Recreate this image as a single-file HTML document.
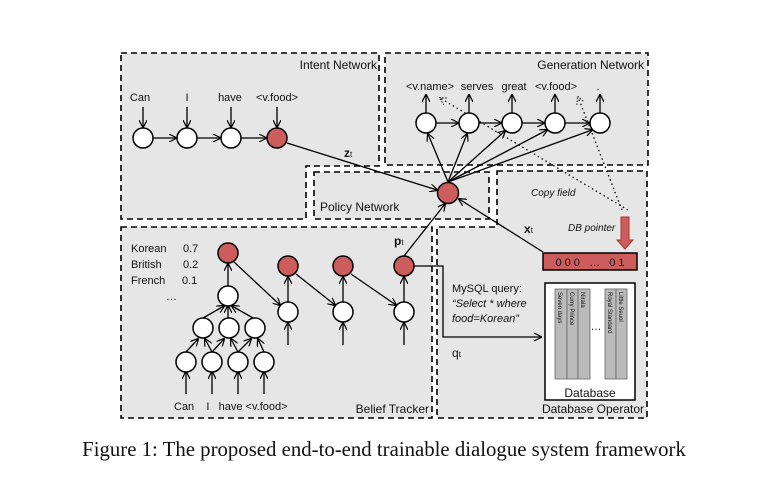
<!DOCTYPE html>
<html><head><meta charset="utf-8"><style>
html,body{margin:0;padding:0;background:#fff;width:770px;height:480px;overflow:hidden}
svg text{font-family:"Liberation Sans",sans-serif;font-size:11px;fill:#111}
</style></head><body>
<svg width="770" height="480" viewBox="0 0 770 480" xmlns="http://www.w3.org/2000/svg">
<defs>
<marker id="a" markerWidth="8" markerHeight="8" refX="7" refY="4" orient="auto" markerUnits="userSpaceOnUse"><path d="M0,0 L8,4 L0,8" fill="none" stroke="#000" stroke-width="1.2"/></marker>
<marker id="ad" markerWidth="8" markerHeight="8" refX="7" refY="4" orient="auto" markerUnits="userSpaceOnUse"><path d="M0,0 L8,4 L0,8" fill="none" stroke="#000" stroke-width="1" stroke-dasharray="1.5,1.5"/></marker>
</defs>
<g fill="#e6e6e6" stroke="#000" stroke-width="1.6" stroke-dasharray="6,4">
<path d="M121,53 H379 V166 H306 V219 H121 Z"/>
<rect x="385" y="53" width="263" height="112"/>
<rect x="314" y="172" width="175" height="47"/>
<path d="M497,171 H647 V418 H437 V227 H497 Z"/>
<rect x="121" y="227" width="311" height="191"/>
</g>
<text x="377" y="69" text-anchor="end" style="font-size:12px">Intent Network</text>
<text x="644" y="69" text-anchor="end" style="font-size:12px">Generation Network</text>
<text x="320" y="211" style="font-size:12px">Policy Network</text>
<text x="429" y="413" text-anchor="end" style="font-size:12px">Belief Tracker</text>
<text x="644" y="413" text-anchor="end" style="font-size:12px">Database Operator</text>
<g stroke="#000" stroke-width="1.3" fill="none" marker-end="url(#a)">
<line x1="143" y1="107" x2="143" y2="127"/><line x1="187" y1="107" x2="187" y2="127"/>
<line x1="231" y1="107" x2="231" y2="127"/><line x1="277" y1="107" x2="277" y2="127"/>
<line x1="153" y1="138" x2="176" y2="138"/><line x1="197" y1="138" x2="220" y2="138"/><line x1="241" y1="138" x2="266" y2="138"/>
<line x1="287" y1="143" x2="437" y2="190"/>
<line x1="436" y1="123" x2="458" y2="123"/><line x1="479" y1="123" x2="501" y2="123"/><line x1="522" y1="123" x2="544" y2="123"/><line x1="565" y1="123" x2="589" y2="123"/>
<line x1="426" y1="113" x2="426" y2="95"/><line x1="469" y1="113" x2="469" y2="95"/><line x1="512" y1="113" x2="512" y2="95"/><line x1="555" y1="113" x2="555" y2="95"/><line x1="600" y1="113" x2="600" y2="95"/>
<line x1="448" y1="182" x2="428" y2="134"/><line x1="448" y1="182" x2="467" y2="134"/><line x1="448" y1="182" x2="505" y2="131"/><line x1="448" y1="182" x2="547" y2="130"/><line x1="448" y1="182" x2="592" y2="130"/>
<line x1="543" y1="252" x2="459" y2="199"/>
<line x1="404" y1="256" x2="445" y2="204"/>
<polyline points="414,266 443,266 443,337 541,337"/>
<line x1="228" y1="286" x2="228" y2="264"/>
<line x1="203" y1="318" x2="224" y2="306"/><line x1="228" y1="318" x2="228" y2="306"/><line x1="253" y1="318" x2="232" y2="306"/>
<line x1="186" y1="352" x2="198" y2="339"/><line x1="212" y1="352" x2="205" y2="339"/><line x1="212" y1="352" x2="224" y2="339"/><line x1="238" y1="352" x2="231" y2="339"/><line x1="238" y1="352" x2="251" y2="339"/><line x1="264" y1="352" x2="258" y2="339"/>
<line x1="186" y1="394" x2="186" y2="372"/><line x1="212" y1="394" x2="212" y2="372"/><line x1="238" y1="394" x2="238" y2="372"/><line x1="264" y1="394" x2="264" y2="372"/>
<line x1="288" y1="302" x2="288" y2="277"/><line x1="343" y1="302" x2="343" y2="277"/><line x1="404" y1="302" x2="404" y2="277"/>
<line x1="288" y1="345" x2="288" y2="323"/><line x1="343" y1="345" x2="343" y2="323"/><line x1="404" y1="345" x2="404" y2="323"/>
<line x1="234" y1="262" x2="280" y2="305"/><line x1="296" y1="274" x2="335" y2="305"/><line x1="351" y1="274" x2="396" y2="305"/>
</g>
<g stroke="#000" stroke-width="1.3" stroke-dasharray="1.5,3" fill="none" marker-end="url(#ad)">
<line x1="628" y1="210" x2="440" y2="98"/>
<line x1="622" y1="210" x2="578" y2="97"/>
</g>
<g stroke="#000" stroke-width="1.5">
<circle cx="143" cy="138" r="10" fill="#fff"/><circle cx="187" cy="138" r="10" fill="#fff"/><circle cx="231" cy="138" r="10" fill="#fff"/><circle cx="277" cy="138" r="10" fill="#cd5c5c"/>
<circle cx="426" cy="123" r="10" fill="#fff"/><circle cx="469" cy="123" r="10" fill="#fff"/><circle cx="512" cy="123" r="10" fill="#fff"/><circle cx="555" cy="123" r="10" fill="#fff"/><circle cx="600" cy="123" r="10" fill="#fff"/>
<circle cx="448" cy="193" r="10.5" fill="#cd5c5c"/>
<circle cx="228" cy="253" r="10" fill="#cd5c5c"/><circle cx="288" cy="266" r="10" fill="#cd5c5c"/><circle cx="343" cy="266" r="10" fill="#cd5c5c"/><circle cx="404" cy="266" r="10" fill="#cd5c5c"/>
<circle cx="228" cy="296" r="10" fill="#fff"/>
<circle cx="203" cy="328" r="10" fill="#fff"/><circle cx="229" cy="328" r="10" fill="#fff"/><circle cx="255" cy="328" r="10" fill="#fff"/>
<circle cx="186" cy="362" r="10" fill="#fff"/><circle cx="212" cy="362" r="10" fill="#fff"/><circle cx="238" cy="362" r="10" fill="#fff"/><circle cx="264" cy="362" r="10" fill="#fff"/>
<circle cx="288" cy="312" r="10" fill="#fff"/><circle cx="343" cy="312" r="10" fill="#fff"/><circle cx="404" cy="312" r="10" fill="#fff"/>
<rect x="543" y="253" width="94" height="17" fill="#cd5c5c"/>
<rect x="545" y="283" width="90" height="117" fill="#fff"/>
</g>
<g fill="#bbb" stroke="#666" stroke-width="0.8">
<rect x="555" y="289" width="12" height="90"/><rect x="567" y="289" width="11" height="90"/><rect x="578" y="289" width="12" height="90"/>
<rect x="605" y="289" width="11" height="90"/><rect x="616" y="289" width="11" height="90"/>
</g>
<path d="M621,217 H629 V240 H633 L625,249 L617,240 H621 Z" fill="#cd5c5c" stroke="#a33" stroke-width="1"/>
<text x="140" y="101" text-anchor="middle">Can</text><text x="187" y="101" text-anchor="middle">I</text><text x="230" y="101" text-anchor="middle">have</text><text x="277" y="101" text-anchor="middle">&lt;v.food&gt;</text>
<text x="430" y="90" text-anchor="middle">&lt;v.name&gt;</text><text x="477" y="90" text-anchor="middle">serves</text><text x="514" y="90" text-anchor="middle">great</text><text x="556" y="90" text-anchor="middle">&lt;v.food&gt;</text><text x="598" y="90" text-anchor="middle">.</text>
<text x="344" y="157" style="font-weight:bold;font-size:12px">z<tspan style="font-size:8px;font-weight:normal">t</tspan></text>
<text x="524" y="233" style="font-weight:bold;font-size:12px">x<tspan style="font-size:8px;font-weight:normal">t</tspan></text>
<text x="394" y="245" style="font-weight:bold;font-size:12px">p<tspan style="font-size:8px;font-weight:normal">t</tspan></text>
<text x="452" y="357" style="font-size:12px">q<tspan style="font-size:8px">t</tspan></text>
<text x="531" y="196" style="font-style:italic;font-size:10px">Copy field</text>
<text x="568" y="231" style="font-style:italic;font-size:10px">DB pointer</text>
<text x="590" y="266" text-anchor="middle" style="font-size:11px">0 0 0&#160;&#160; …&#160;&#160; 0 1</text>
<text x="452" y="292">MySQL query:</text>
<text x="452" y="307" style="font-style:italic">“Select * where</text>
<text x="452" y="322" style="font-style:italic">food=Korean”</text>
<text x="590" y="397" text-anchor="middle" style="font-size:12px">Database</text>
<text x="596" y="330" text-anchor="middle">…</text>
<text transform="translate(558,292) rotate(90)" style="font-size:6px">Seven days</text>
<text transform="translate(570,292) rotate(90)" style="font-size:6px">Curry Prince</text>
<text transform="translate(581,292) rotate(90)" style="font-size:6px">Nirala</text>
<text transform="translate(608,292) rotate(90)" style="font-size:6px">Royal Standard</text>
<text transform="translate(619,292) rotate(90)" style="font-size:6px">Little Seuol</text>
<text x="131" y="252">Korean</text><text x="183" y="252">0.7</text>
<text x="131" y="268">British</text><text x="183" y="268">0.2</text>
<text x="131" y="284">French</text><text x="182" y="284">0.1</text>
<text x="166" y="300">…</text>
<text x="174" y="410">Can&#160;&#160;&#160; I&#160;&#160; have &lt;v.food&gt;</text>
<text x="384" y="456" text-anchor="middle" style="font-family:'Liberation Serif',serif;font-size:20.8px">Figure 1: The proposed end-to-end trainable dialogue system framework</text>
</svg>
</body></html>
